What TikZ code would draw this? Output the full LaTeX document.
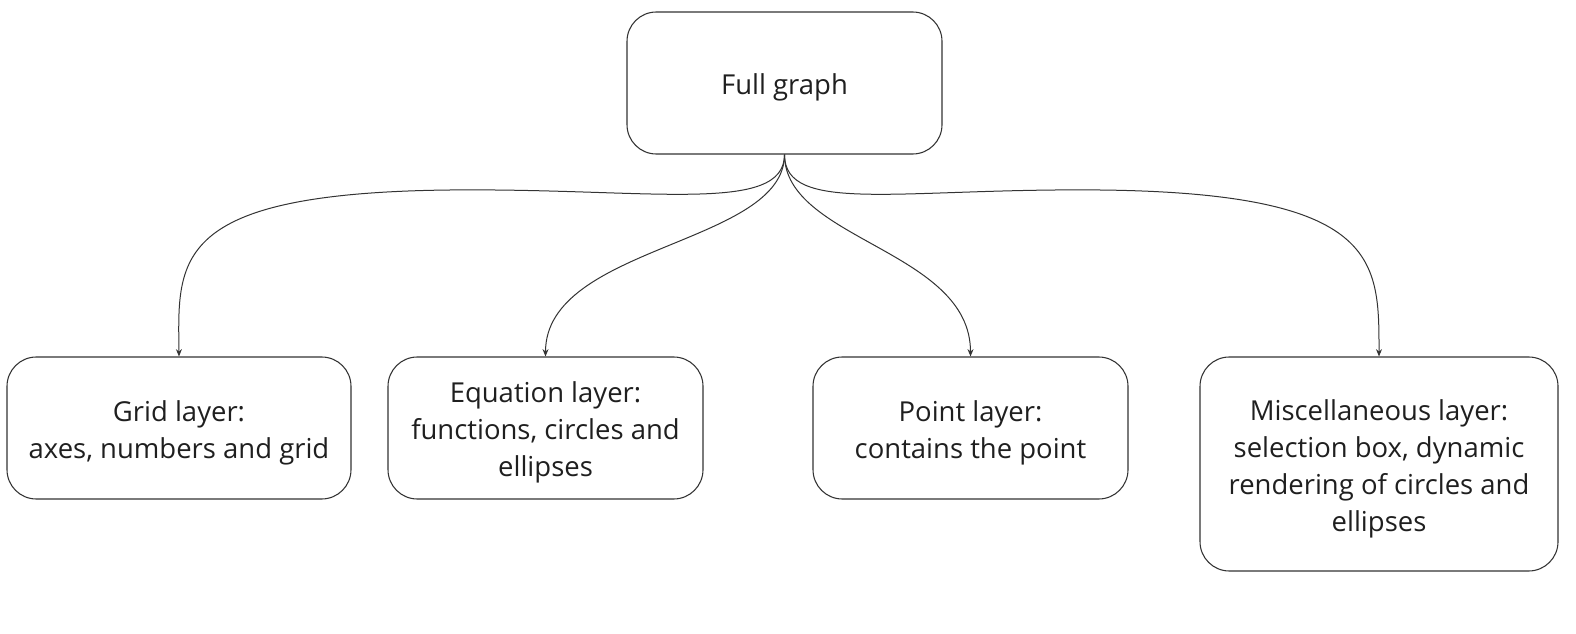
\documentclass[tikz,border=0pt]{standalone}
\usepackage{fontspec}
\setmainfont{Open Sans}
\usetikzlibrary{arrows.meta}
\definecolor{ln}{HTML}{333333}
\definecolor{tx}{HTML}{1F1F1F}
\begin{document}
\begin{tikzpicture}[x=0.75pt,y=-0.75pt,
  box/.style={draw=ln,line width=0.8pt,rounded corners=22pt,inner sep=0pt},
  lbl/.style={align=center,text=tx,font=\fontsize{20.6pt}{27.75pt}\selectfont,inner sep=0pt},
  conn/.style={draw=ln,line width=0.75pt,-{Stealth[length=5.5pt,width=4.5pt]}}]
\useasboundingbox (0,0) rectangle (1576,634);
\node[box,minimum width={315*0.75pt},minimum height={142*0.75pt}] (full) at (784.5,83) {};
\node[box,minimum width={344*0.75pt},minimum height={142*0.75pt}] (grid) at (179,428) {};
\node[box,minimum width={315*0.75pt},minimum height={142*0.75pt}] (eq) at (545.5,428) {};
\node[box,minimum width={315*0.75pt},minimum height={142*0.75pt}] (pt) at (970.5,428) {};
\node[box,minimum width={358*0.75pt},minimum height={214*0.75pt}] (misc) at (1379,464) {};
\node[lbl] (fullt) at ([yshift=-3.5pt]full.center) {Full graph};
\node[lbl] (gridt) at ([yshift=-3.5pt]grid.center) {Grid layer:\\axes, numbers and grid};
\node[lbl] (eqt) at ([yshift=-3.5pt]eq.center) {Equation layer:\\functions, circles and\\ellipses};
\node[lbl] (ptt) at ([yshift=-3.5pt]pt.center) {Point layer:\\contains the point};
\node[lbl] (misct) at ([yshift=-3.5pt]misc.center) {Miscellaneous layer:\\selection box, dynamic\\rendering of circles and\\ellipses};
\draw[conn] (full.south) .. controls (784.5,215) and (650,188) .. (450,190) .. controls (170,193) and (178,260) .. (grid.north);
\draw[conn] (full.south) .. controls (784.5,245) and (545.5,245) .. (eq.north);
\draw[conn] (full.south) .. controls (784.5,240) and (970.5,250) .. (pt.north);
\draw[conn] (full.south) .. controls (784.5,215) and (900,188) .. (1100,190) .. controls (1380,193) and (1379,260) .. (misc.north);
\end{tikzpicture}
\end{document}
